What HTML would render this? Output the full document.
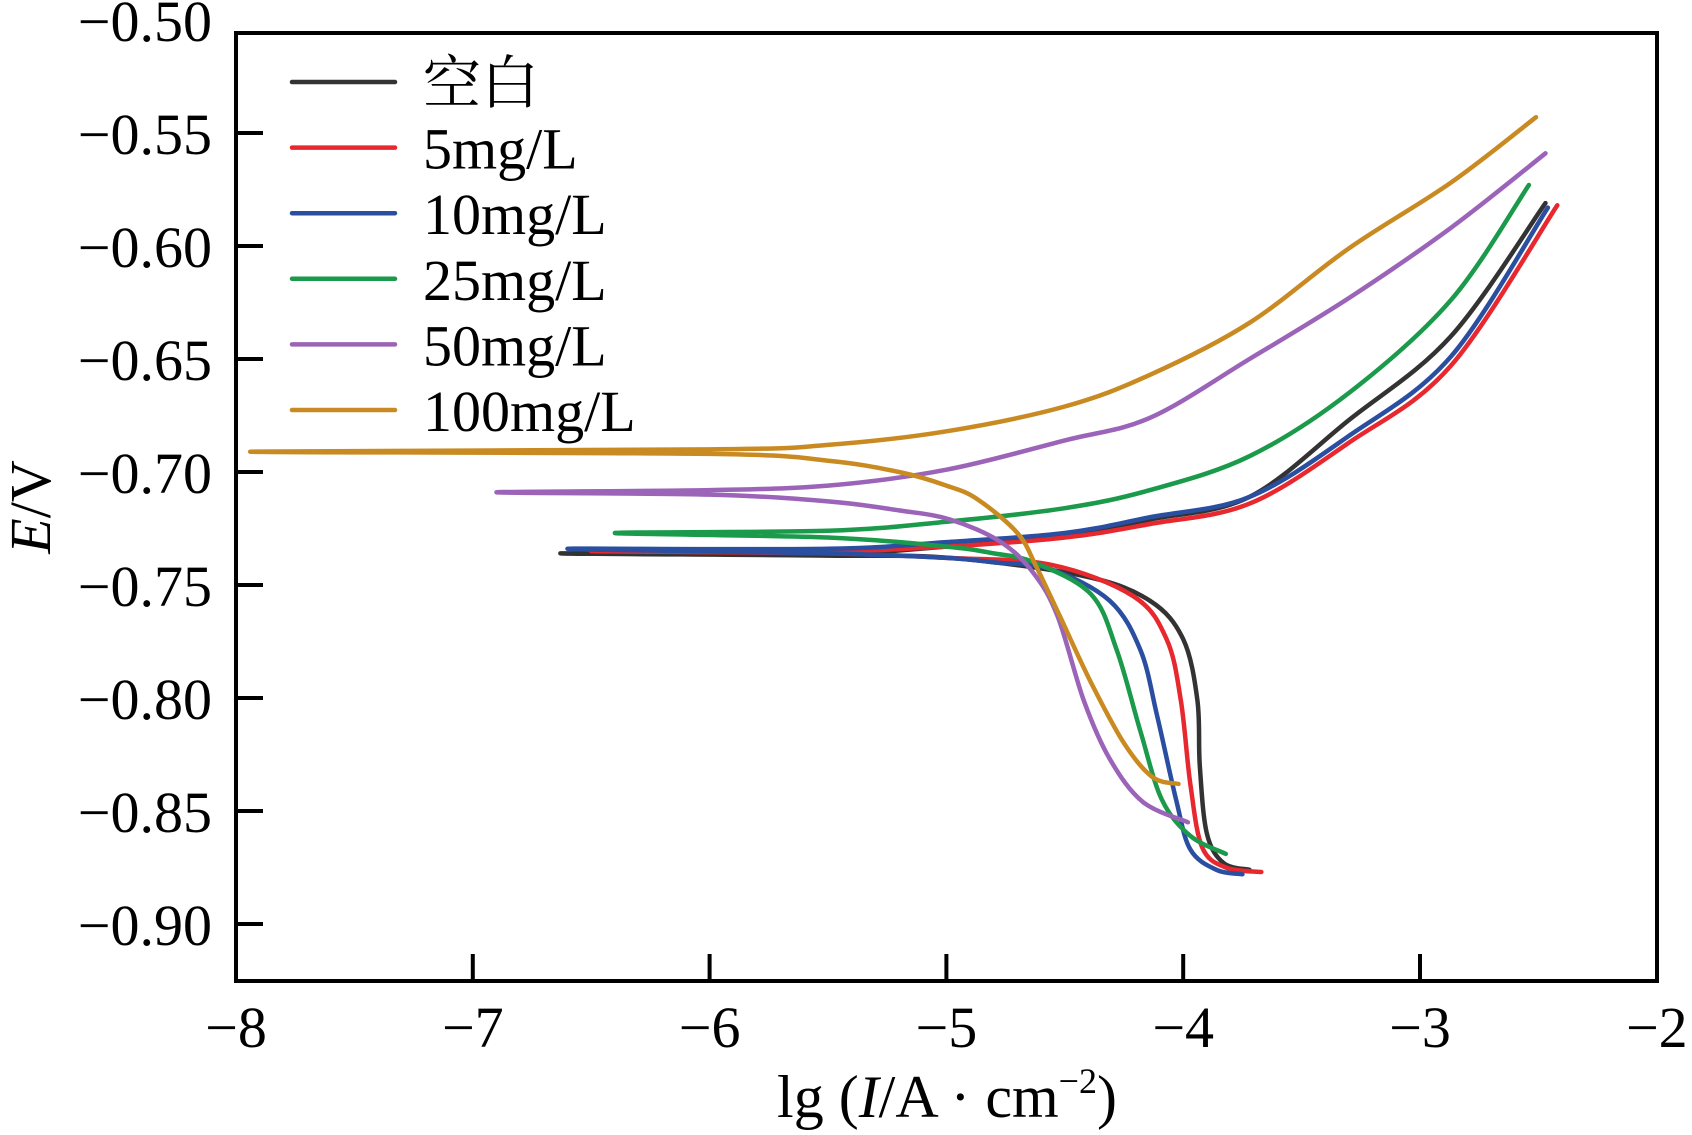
<!DOCTYPE html>
<html><head><meta charset="utf-8"><style>
html,body{margin:0;padding:0;background:#fff;}
svg{display:block;font-family:"Liberation Serif","Noto Serif CJK SC",serif;}
</style></head><body>
<svg id="chart" width="1692" height="1135" viewBox="0 0 1692 1135" xmlns="http://www.w3.org/2000/svg">
<g id="series"></g>
<g id="axes"></g>
<g id="legend"></g>
</svg>
<script>
const xTicks = [-8, -7, -6, -5, -4, -3, -2];
const xTickLabels = ["\u22128", "\u22127", "\u22126", "\u22125", "\u22124", "\u22123", "\u22122"];
const yTicks = [-0.50, -0.55, -0.60, -0.65, -0.70, -0.75, -0.80, -0.85, -0.90];
const yTickLabels = ["\u22120.50", "\u22120.55", "\u22120.60", "\u22120.65", "\u22120.70", "\u22120.75", "\u22120.80", "\u22120.85", "\u22120.90"];
const seriesNames = ["空白", "5mg/L", "10mg/L", "25mg/L", "50mg/L", "100mg/L"];
const seriesColors = ["#333333", "#e8282f", "#2a4ea0", "#1a9a4a", "#9b64b8", "#c98a22"];

// [lgI, E] pairs, cathodic end -> Ecorr -> anodic end
const blank = [[-3.72,-0.876],[-3.83,-0.873],[-3.90,-0.860],[-3.93,-0.830],[-3.94,-0.801],[-4.00,-0.774],[-4.14,-0.757],[-4.42,-0.746],[-4.985,-0.738],[-5.5,-0.737],[-6.63,-0.736],[-5.5,-0.736],[-5.0,-0.733],[-4.5,-0.728],[-4.14,-0.721],[-3.72,-0.711],[-3.30,-0.677],[-2.87,-0.640],[-2.47,-0.581]];
const c5 = [[-3.67,-0.877],[-3.82,-0.875],[-3.92,-0.866],[-3.97,-0.838],[-4.01,-0.801],[-4.07,-0.774],[-4.21,-0.755],[-4.56,-0.741],[-5.0,-0.738],[-5.5,-0.736],[-6.5,-0.735],[-5.5,-0.735],[-5.0,-0.733],[-4.5,-0.729],[-4.14,-0.723],[-3.72,-0.714],[-3.30,-0.687],[-2.87,-0.653],[-2.42,-0.582]];
const c10 = [[-3.75,-0.878],[-3.86,-0.876],[-3.97,-0.867],[-4.03,-0.845],[-4.11,-0.808],[-4.18,-0.779],[-4.31,-0.757],[-4.56,-0.743],[-4.8,-0.740],[-5.0,-0.738],[-5.5,-0.736],[-6.6,-0.734],[-5.5,-0.734],[-5.0,-0.731],[-4.5,-0.727],[-4.14,-0.720],[-3.72,-0.711],[-3.30,-0.684],[-2.87,-0.649],[-2.46,-0.583]];
const c25 = [[-3.82,-0.869],[-3.97,-0.861],[-4.09,-0.845],[-4.18,-0.815],[-4.28,-0.779],[-4.39,-0.754],[-4.63,-0.740],[-4.8,-0.736],[-5.0,-0.733],[-5.5,-0.729],[-6.4,-0.727],[-5.5,-0.726],[-5.0,-0.722],[-4.5,-0.716],[-4.14,-0.708],[-3.72,-0.693],[-3.30,-0.665],[-2.87,-0.624],[-2.54,-0.573]];
const c50 = [[-3.98,-0.855],[-4.17,-0.846],[-4.31,-0.827],[-4.42,-0.801],[-4.53,-0.764],[-4.63,-0.745],[-4.77,-0.731],[-4.985,-0.721],[-5.2,-0.717],[-5.5,-0.713],[-6.0,-0.710],[-6.9,-0.709],[-6.0,-0.708],[-5.5,-0.706],[-5.0,-0.699],[-4.5,-0.686],[-4.14,-0.676],[-3.72,-0.650],[-3.30,-0.623],[-2.87,-0.592],[-2.47,-0.559]];
const c100 = [[-4.02,-0.838],[-4.13,-0.835],[-4.25,-0.820],[-4.39,-0.793],[-4.52,-0.764],[-4.62,-0.742],[-4.70,-0.727],[-4.87,-0.712],[-5.0,-0.706],[-5.2,-0.700],[-5.5,-0.695],[-6.0,-0.692],[-7.94,-0.691],[-6.0,-0.690],[-5.5,-0.688],[-5.0,-0.682],[-4.5,-0.671],[-4.14,-0.657],[-3.72,-0.634],[-3.30,-0.601],[-2.87,-0.572],[-2.51,-0.543]];
const allSeries = [blank, c5, c10, c25, c50, c100];

const NS = "http://www.w3.org/2000/svg";
const L = 236, R = 1657, T = 33, B = 981;
function sx(v){ return 236 + (v + 8) * 236.8; }
function sy(v){ return 246 + (-0.60 - v) * 2260; }
function mk(tag, attrs, parent){ const e = document.createElementNS(NS, tag); for (const k in attrs) e.setAttribute(k, attrs[k]); parent.appendChild(e); return e; }
function smooth(p){
  let d = 'M' + p[0][0].toFixed(1) + ',' + p[0][1].toFixed(1);
  for (let i = 0; i < p.length - 1; i++) {
    const p0 = p[i - 1] || p[i], p1 = p[i], p2 = p[i + 1], p3 = p[i + 2] || p2;
    const k = 1 / 6;
    const c1 = [p1[0] + (p2[0] - p0[0]) * k, p1[1] + (p2[1] - p0[1]) * k];
    const c2 = [p2[0] - (p3[0] - p1[0]) * k, p2[1] - (p3[1] - p1[1]) * k];
    d += ' C' + c1[0].toFixed(1) + ',' + c1[1].toFixed(1) + ' ' + c2[0].toFixed(1) + ',' + c2[1].toFixed(1) + ' ' + p2[0].toFixed(1) + ',' + p2[1].toFixed(1);
  }
  return d;
}

const sg = document.getElementById('series');
allSeries.forEach((s, i) => {
  const pts = s.map(p => [sx(p[0]), sy(p[1])]);
  const pl = mk('path', {d: smooth(pts), fill: 'none', stroke: seriesColors[i], 'stroke-width': 4.5, 'stroke-linejoin': 'round', 'stroke-linecap': 'round'}, sg);
  
  
});

const ag = document.getElementById('axes');
const frame = mk('rect', {x: L, y: T, width: R - L, height: B - T, fill: 'none', stroke: '#000', 'stroke-width': 4}, ag);


xTicks.forEach((v, i) => {
  const x = sx(v);
  if (i > 0 && i < xTicks.length - 1) {
    const t = mk('line', {x1: x, x2: x, y1: B, y2: B - 27, stroke: '#000', 'stroke-width': 4}, ag);
    
    
  }
  const tx = mk('text', {x: x, y: 1047, 'text-anchor': 'middle', 'font-size': 58}, ag);
  tx.textContent = xTickLabels[i];
  
  
});
yTicks.forEach((v, i) => {
  const y = sy(v);
  if (i > 0) {
    const t = mk('line', {x1: L, x2: L + 27, y1: y, y2: y, stroke: '#000', 'stroke-width': 4}, ag);
    
    
  }
  const tx = mk('text', {x: 212, y: y + 21, 'text-anchor': 'end', 'font-size': 58}, ag);
  tx.textContent = yTickLabels[i];
  
  
});
const xt = mk('text', {x: 947, y: 1117, 'text-anchor': 'middle', 'font-size': 60}, ag);
xt.innerHTML = 'lg (<tspan font-style="italic">I</tspan>/A · cm<tspan font-size="36" dy="-24">−2</tspan><tspan dy="24">)</tspan>';


const yt = mk('text', {x: 0, y: 0, 'text-anchor': 'middle', 'font-size': 58, transform: 'translate(50,507) rotate(-90)'}, ag);
yt.innerHTML = '<tspan font-style="italic">E</tspan>/V';



const lg = document.getElementById('legend');
seriesNames.forEach((n, i) => {
  const y = 82 + i * 65.6;
  const g = mk('g', {}, lg);
  
  
  mk('line', {x1: 292, x2: 395, y1: y, y2: y, stroke: seriesColors[i], 'stroke-width': 4.5, 'stroke-linecap': 'round'}, g);
  const t = mk('text', {x: 423, y: y + 21, 'font-size': 58}, g);
  t.textContent = n;
});
</script>
</body></html>
